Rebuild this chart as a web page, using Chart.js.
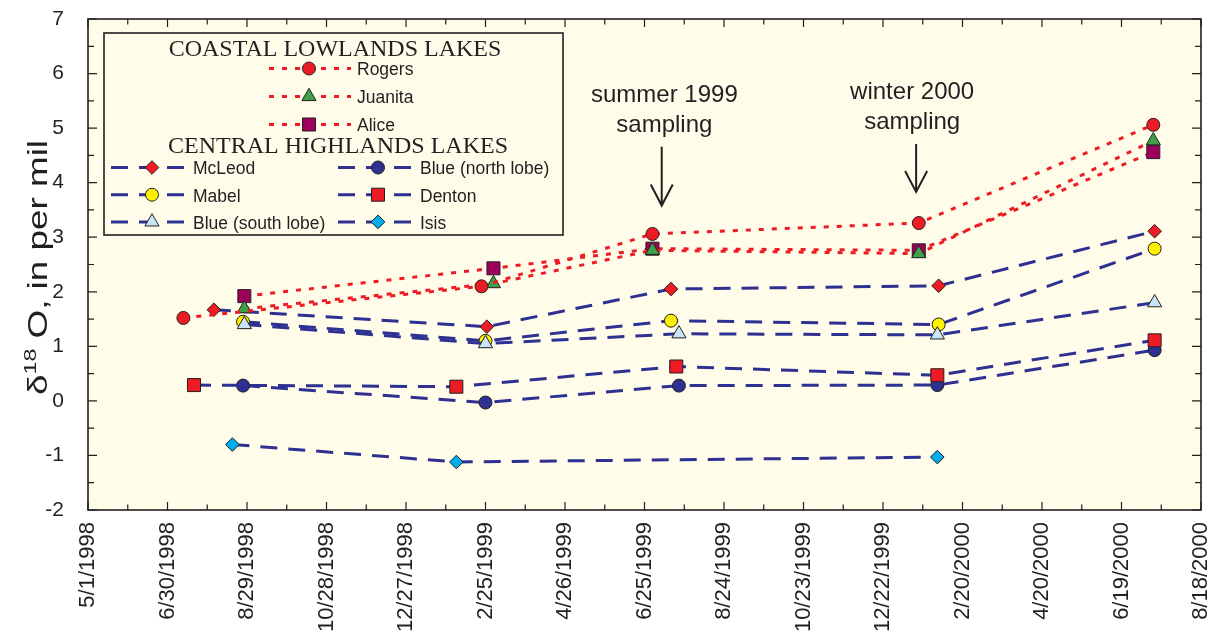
<!DOCTYPE html>
<html>
<head>
<meta charset="utf-8">
<title>delta 18O in lakes</title>
<script src="https://cdn.jsdelivr.net/npm/chart.js@4.4.1/dist/chart.umd.min.js"></script>
<style>
  html, body { margin: 0; padding: 0; background: #ffffff; }
  #wrap { width: 1218px; height: 635px; }
</style>
</head>
<body>
<div id="wrap"><canvas id="c" width="1218" height="635"></canvas></div>
<script>
// --- sampling dates (M/D/YYYY) and delta-18O values, per mil ---
const rogersDates    = ['7/12/1998', '2/22/1999', '7/1/1999', '1/18/2000', '7/13/2000'];
const rogersVals     = [1.52, 2.10, 3.06, 3.26, 5.06];
const juanitaDates   = ['8/27/1998', '3/3/1999', '7/1/1999', '1/18/2000', '7/13/2000'];
const juanitaVals    = [1.69, 2.15, 2.76, 2.70, 4.77];
const aliceDates     = ['8/27/1998', '3/3/1999', '7/1/1999', '1/18/2000', '7/13/2000'];
const aliceVals      = [1.92, 2.43, 2.79, 2.76, 4.56];

const mcleodDates    = ['8/4/1998', '2/26/1999', '7/15/1999', '2/2/2000', '7/14/2000'];
const mcleodVals     = [1.67, 1.36, 2.05, 2.11, 3.11];
const mabelDates     = ['8/26/1998', '2/25/1999', '7/15/1999', '2/2/2000', '7/14/2000'];
const mabelVals      = [1.45, 1.10, 1.47, 1.40, 2.79];
const blueSouthDates = ['8/27/1998', '2/25/1999', '7/21/1999', '2/1/2000', '7/14/2000'];
const blueSouthVals  = [1.40, 1.05, 1.23, 1.21, 1.80];
const blueNorthDates = ['8/26/1998', '2/25/1999', '7/21/1999', '2/1/2000', '7/14/2000'];
const blueNorthVals  = [0.28, -0.03, 0.28, 0.29, 0.93];
const dentonDates    = ['7/20/1998', '2/3/1999', '7/19/1999', '2/1/2000', '7/14/2000'];
const dentonVals     = [0.29, 0.26, 0.63, 0.47, 1.11];
const isisDates      = ['8/18/1998', '2/3/1999', '2/1/2000'];
const isisVals       = [-0.80, -1.12, -1.03];

// axis range
const xStart = '5/1/1998';
const xEnd   = '8/18/2000';
const xStepDays = 60;
const yMin = -2, yMax = 7;

// sampling-campaign notes: text lines, where the text and arrow sit (date / value)
const notes = [
  { lines: ['summer 1999', 'sampling'], textDate: '7/10/1999', textVals: [5.48, 4.93],
    arrowDate: '7/8/1999', arrowFrom: 4.66, arrowTo: 3.58 },
  { lines: ['winter 2000', 'sampling'], textDate: '1/13/2000', textVals: [5.53, 4.98],
    arrowDate: '1/16/2000', arrowFrom: 4.71, arrowTo: 3.83 }
];

// --- colours ---
const RED = '#ed1c24', NAVY = '#2e3192', EDGE = '#231f20';
const PLOT_BG = '#fffcea';
const SANS = '"Liberation Sans", Arial, Helvetica, sans-serif';
const SERIF = '"Liberation Serif", "Times New Roman", serif';

const X0 = Date.UTC(1998, 4, 1);
function dayOf(s) {
  const [m, d, y] = s.split('/').map(Number);
  return Math.round((Date.UTC(y, m - 1, d) - X0) / 86400000);
}
function dateLabel(n) {
  const t = new Date(X0 + n * 86400000);
  return (t.getUTCMonth() + 1) + '/' + t.getUTCDate() + '/' + t.getUTCFullYear();
}
function pts(dates, vals) { return dates.map((s, i) => ({ x: dayOf(s), y: vals[i] })); }

const R = { circle: 6.5, triangle: 8.2, rect: 9.2, rectRot: 6.8 };

function lake(label, dates, vals, group, style, fill, order) {
  const coastal = group === 'coastal';
  return {
    label, group, order,
    data: pts(dates, vals),
    borderColor: coastal ? RED : NAVY,
    borderWidth: 3,
    borderDash: coastal ? [5, 8] : [17, 11],
    pointStyle: style,
    pointRadius: R[style],
    pointBackgroundColor: fill,
    pointBorderColor: EDGE,
    pointBorderWidth: 1,
    tension: 0,
    fill: false
  };
}

const datasets = [
  lake('Rogers', rogersDates, rogersVals, 'coastal', 'circle', RED, 1),
  lake('Juanita', juanitaDates, juanitaVals, 'coastal', 'triangle', '#3fa048', 2),
  lake('Alice', aliceDates, aliceVals, 'coastal', 'rect', '#9e005d', 3),
  lake('McLeod', mcleodDates, mcleodVals, 'central', 'rectRot', RED, 4),
  lake('Mabel', mabelDates, mabelVals, 'central', 'circle', '#fff200', 8),
  lake('Blue (south lobe)', blueSouthDates, blueSouthVals, 'central', 'triangle', '#c7e6f7', 7),
  lake('Blue (north lobe)', blueNorthDates, blueNorthVals, 'central', 'circle', NAVY, 6),
  lake('Denton', dentonDates, dentonVals, 'central', 'rect', RED, 5),
  lake('Isis', isisDates, isisVals, 'central', 'rectRot', '#00aeef', 9)
];

function marker(ctx, ds, x, y) {
  ctx.save();
  ctx.setLineDash([]);
  ctx.fillStyle = ds.pointBackgroundColor;
  ctx.strokeStyle = ds.pointBorderColor;
  ctx.lineWidth = ds.pointBorderWidth;
  Chart.helpers.drawPoint(ctx, { pointStyle: ds.pointStyle, radius: ds.pointRadius, borderWidth: ds.pointBorderWidth, rotation: 0 }, x, y);
  ctx.restore();
}

// cream plot background, frame and inward ticks on all four sides
const framePlugin = {
  id: 'frame',
  beforeDatasetsDraw(chart) {
    const { ctx, chartArea: a } = chart;
    ctx.save();
    ctx.fillStyle = PLOT_BG;
    ctx.fillRect(a.left, a.top, a.right - a.left, a.bottom - a.top);
    ctx.restore();
  },
  afterDatasetsDraw(chart) {
    const { ctx, chartArea: a, scales: { x, y } } = chart;
    ctx.save();
    ctx.strokeStyle = EDGE;
    ctx.lineWidth = 1.2;
    ctx.beginPath();
    for (let d = x.min; d <= x.max; d += xStepDays / 2) {
      const px = x.getPixelForValue(d);
      const len = d % xStepDays === 0 ? 8 : 5.5;
      ctx.moveTo(px, a.bottom); ctx.lineTo(px, a.bottom - len);
      ctx.moveTo(px, a.top); ctx.lineTo(px, a.top + len);
    }
    for (let v = y.min; v <= y.max; v += 0.5) {
      const py = y.getPixelForValue(v);
      const len = Number.isInteger(v) ? 9 : 6;
      ctx.moveTo(a.left, py); ctx.lineTo(a.left + len, py);
      ctx.moveTo(a.right, py); ctx.lineTo(a.right - len, py);
    }
    ctx.stroke();
    ctx.lineWidth = 1.6;
    ctx.strokeRect(a.left, a.top, a.right - a.left, a.bottom - a.top);
    ctx.restore();
  }
};

// legend box with the two lake groups
const legendPlugin = {
  id: 'lakeLegend',
  afterDraw(chart) {
    const { ctx, chartArea: a } = chart;
    const sets = chart.data.datasets;
    const byLabel = l => sets.find(d => d.label === l);
    const bx = a.left + 16, by = a.top + 14, bw = 459, bh = 202;
    ctx.save();
    ctx.fillStyle = PLOT_BG;
    ctx.fillRect(bx, by, bw, bh);
    ctx.strokeStyle = EDGE;
    ctx.lineWidth = 1.6;
    ctx.strokeRect(bx, by, bw, bh);

    ctx.fillStyle = EDGE;
    ctx.font = '24px ' + SERIF;
    ctx.textAlign = 'center';
    ctx.textBaseline = 'alphabetic';
    ctx.fillText('COASTAL LOWLANDS LAKES', bx + 231, by + 23);
    ctx.fillText('CENTRAL HIGHLANDS LAKES', bx + 234, by + 120);

    const item = (ds, x1, x2, xm, xl, yy) => {
      ctx.save();
      ctx.strokeStyle = ds.borderColor;
      ctx.lineWidth = ds.borderWidth;
      ctx.setLineDash(ds.borderDash);
      ctx.beginPath();
      ctx.moveTo(x1, yy); ctx.lineTo(x2, yy);
      ctx.stroke();
      ctx.restore();
      marker(ctx, ds, xm, yy);
      ctx.fillStyle = EDGE;
      ctx.font = '17.5px ' + SANS;
      ctx.textAlign = 'left';
      ctx.textBaseline = 'middle';
      ctx.fillText(ds.label, xl, yy + 2);
    };
    const coastal = sets.filter(d => d.group === 'coastal');
    coastal.forEach((ds, i) => item(ds, bx + 165, bx + 247, bx + 205, bx + 253, by + 35.5 + i * 28));
    const leftCol = ['McLeod', 'Mabel', 'Blue (south lobe)'];
    const rightCol = ['Blue (north lobe)', 'Denton', 'Isis'];
    leftCol.forEach((l, i) => item(byLabel(l), bx + 7, bx + 81, bx + 48, bx + 89, by + 134.5 + i * 27.2));
    rightCol.forEach((l, i) => item(byLabel(l), bx + 234, bx + 308, bx + 274, bx + 316, by + 134.5 + i * 27.2));
    ctx.restore();
  }
};

// campaign labels with down arrows
const notesPlugin = {
  id: 'notes',
  afterDraw(chart) {
    const { ctx, scales: { x, y } } = chart;
    ctx.save();
    ctx.fillStyle = EDGE;
    ctx.strokeStyle = EDGE;
    ctx.font = '24px ' + SANS;
    ctx.textAlign = 'center';
    ctx.textBaseline = 'alphabetic';
    notes.forEach(n => {
      const tx = x.getPixelForValue(dayOf(n.textDate));
      n.lines.forEach((t, i) => ctx.fillText(t, tx, y.getPixelForValue(n.textVals[i])));
      const ax = x.getPixelForValue(dayOf(n.arrowDate));
      const y1 = y.getPixelForValue(n.arrowFrom), y2 = y.getPixelForValue(n.arrowTo);
      ctx.lineWidth = 2;
      ctx.beginPath();
      ctx.moveTo(ax, y1); ctx.lineTo(ax, y2);
      ctx.moveTo(ax - 11, y2 - 21); ctx.lineTo(ax, y2); ctx.lineTo(ax + 11, y2 - 21);
      ctx.stroke();
    });
    ctx.restore();
  }
};

// rotated y title with superscript mass number
const yTitlePlugin = {
  id: 'yTitle',
  afterDraw(chart) {
    const { ctx, chartArea: a } = chart;
    const big = '27px ' + SANS, small = '17px ' + SANS;
    ctx.save();
    ctx.fillStyle = EDGE;
    ctx.textBaseline = 'alphabetic';
    ctx.textAlign = 'left';
    ctx.font = big;
    const w1 = ctx.measureText('\u03b4').width;
    const w3 = ctx.measureText(' O, in per mil').width;
    ctx.font = small;
    const w2 = ctx.measureText('18').width;
    const total = w1 + w2 + w3;
    const len = 255;
    ctx.translate(47, (a.top + a.bottom) / 2 + 3);
    ctx.rotate(-Math.PI / 2);
    ctx.scale(len / total, 1);
    let cx = -total / 2;
    ctx.font = big;
    ctx.fillText('\u03b4', cx, 0); cx += w1;
    ctx.font = small;
    ctx.fillText('18', cx, -11); cx += w2;
    ctx.font = big;
    ctx.fillText(' O, in per mil', cx, 0);
    ctx.restore();
  }
};

new Chart(document.getElementById('c'), {
  type: 'line',
  data: { datasets },
  options: {
    responsive: false,
    animation: false,
    devicePixelRatio: 1,
    layout: { padding: { left: 0, right: 17, top: 19, bottom: 0 } },
    plugins: { legend: { display: false }, tooltip: { enabled: false } },
    scales: {
      x: {
        type: 'linear',
        min: dayOf(xStart), max: dayOf(xEnd),
        grid: { display: false }, border: { display: false },
        ticks: {
          stepSize: xStepDays, autoSkip: false,
          minRotation: 90, maxRotation: 90, padding: 4,
          color: EDGE, font: { family: SANS, size: 22 },
          callback: v => dateLabel(v)
        },
        afterFit(s) { s.height = 125; s.paddingLeft = 0; s.paddingRight = 0; }
      },
      y: {
        type: 'linear',
        min: yMin, max: yMax,
        grid: { display: false }, border: { display: false },
        ticks: { stepSize: 1, padding: 16, color: EDGE, font: { family: SANS, size: 21 } },
        afterFit(s) { s.width = 88; s.paddingTop = 0; s.paddingBottom = 0; }
      }
    }
  },
  plugins: [framePlugin, legendPlugin, notesPlugin, yTitlePlugin]
});
</script>
</body>
</html>
